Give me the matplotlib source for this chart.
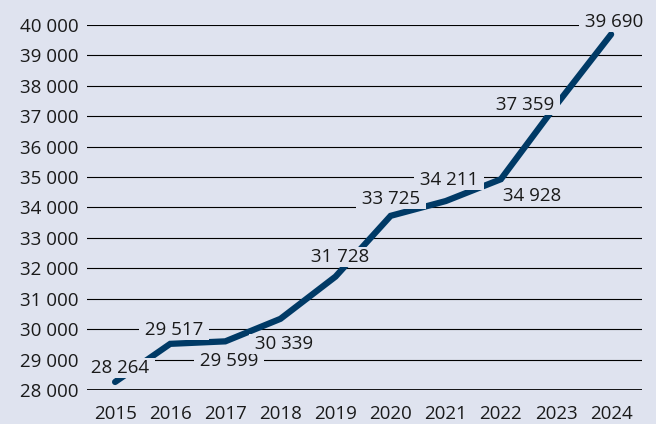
import matplotlib.pyplot as plt

years = [2015, 2016, 2017, 2018, 2019, 2020, 2021, 2022, 2023, 2024]
values = [28264, 29517, 29599, 30339, 31728, 33725, 34211, 34928, 37359, 39690]
# label offsets in pixels (dx, dy) from each point
offsets = [(5, 14), (4, 14), (4, -20), (4, -25), (5, 20),
           (0, 17), (3, 21), (31, -17), (-31, 0), (3, 12)]
yticks = list(range(28000, 40001, 1000))

bg = '#dfe3ef'
navy = '#003a66'

def fmt(v):
    return f"{v:,}".replace(",", " ")

plt.rcParams['font.family'] = ['Open Sans', 'DejaVu Sans']

fig = plt.figure(figsize=(6.56, 4.24), dpi=100, facecolor=bg)
ax = fig.add_axes([0.1326, 0.0802, 0.846, 0.861], facecolor=bg)

for t in yticks:
    if t == 28000:
        ax.axhline(t, color='black', lw=2.0, zorder=1)
    else:
        ax.axhline(t, color='black', lw=0.8, zorder=1)

ax.plot(years, values, color=navy, lw=4.5, solid_capstyle='round',
        solid_joinstyle='miter', zorder=2)

# spaces around the text give the horizontal gap to the gridlines
for x, y, (dx, dy) in zip(years, values, offsets):
    ax.annotate(" " + fmt(y) + " ", (x, y), xytext=(dx, dy),
                textcoords='offset pixels',
                ha='center', va='center', fontsize=13.5, color='#1a1a1a',
                bbox=dict(facecolor=bg, edgecolor='none',
                          boxstyle='square,pad=0.05'), zorder=3)

ax.set_xlim(2014.49, 2024.56)
ax.set_ylim(28000, 40000)
ax.set_xticks(years)
ax.set_xticklabels([str(y) for y in years])
ax.set_yticks(yticks)
ax.set_yticklabels([fmt(t) for t in yticks])
ax.tick_params(length=0, labelsize=13.5, labelcolor='#1a1a1a')
ax.tick_params(axis='x', pad=11)
ax.tick_params(axis='y', pad=6)
for s in ax.spines.values():
    s.set_visible(False)

fig.savefig('out.png', dpi=100, facecolor=bg)
